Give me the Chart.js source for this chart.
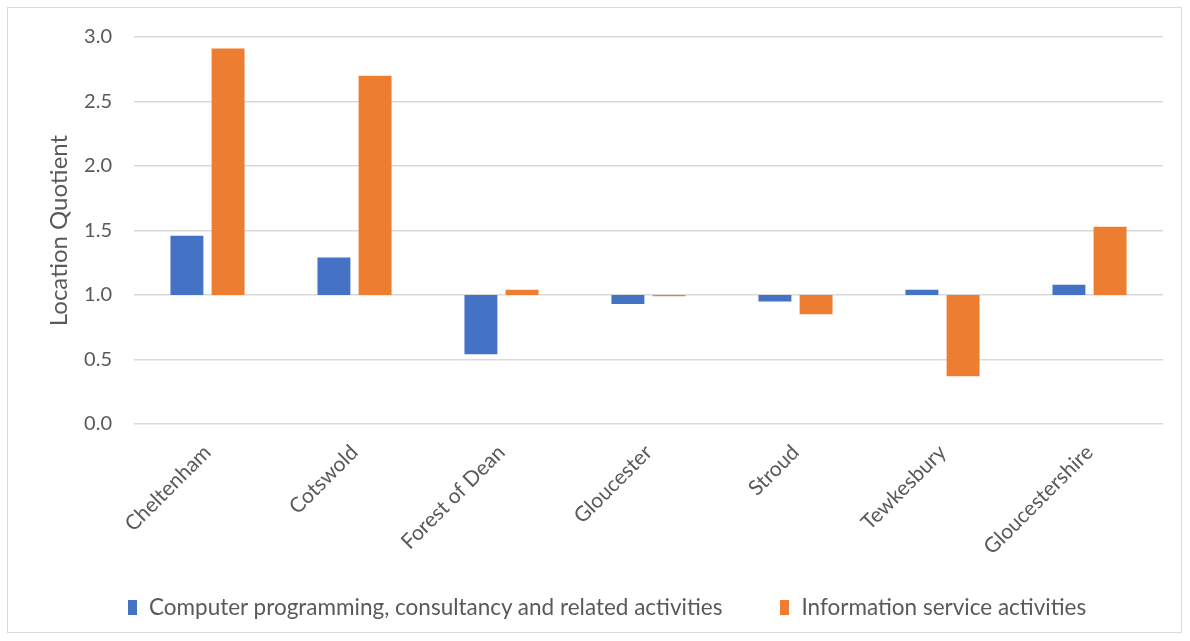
<!DOCTYPE html>
<html>
<head>
<meta charset="utf-8">
<script src="https://cdn.jsdelivr.net/npm/chart.js@4"></script>
<style>
  body { margin: 0; background: #fff; font-family: Lato, "Open Sans", sans-serif; }
  #frame {
    position: absolute; left: 7px; top: 7px;
    width: 1175px; height: 626px;
    border: 1px solid #d9d9d9; box-sizing: border-box;
  }
  canvas { display: block; }
  #legend {
    position: absolute; left: 128px; top: 593px;
    display: flex; gap: 58px; align-items: center;
    color: #595959; font-size: 22.5px; line-height: 28px; white-space: nowrap;
  }
  #legend .item { display: flex; align-items: center; }
  #legend .swatch { width: 9px; height: 15px; margin-right: 12px; }
</style>
</head>
<body>
<div id="frame"><canvas id="lq" width="1173" height="624"></canvas></div>
<div id="legend"></div>
<script>
const areas = ["Cheltenham", "Cotswold", "Forest of Dean", "Gloucester", "Stroud", "Tewkesbury", "Gloucestershire"];
const computing = [1.46, 1.29, 0.54, 0.93, 0.95, 1.04, 1.08];
const infoServices = [2.91, 2.70, 1.04, 0.99, 0.85, 0.37, 1.53];
const baseline = 1.0;
const yTicks = [0, 0.5, 1, 1.5, 2, 2.5, 3];

// bars hang from the 1.0 line, not from zero
const fromBase = (vals) => vals.map(v => [baseline, v]);

const ctx = document.getElementById("lq").getContext("2d");
Chart.defaults.font.family = "Lato, 'Open Sans', sans-serif";
Chart.defaults.color = "#595959";

const chart = new Chart(ctx, {
    type: "bar",
    data: {
        labels: areas,
        datasets: [
            {
                label: "Computer programming, consultancy and related activities",
                data: fromBase(computing),
                backgroundColor: "#4472c4",
                borderWidth: 0,
            },
            {
                label: "Information service activities",
                data: fromBase(infoServices),
                backgroundColor: "#ed7d31",
                borderWidth: 0,
            },
        ],
    },
    options: {
        responsive: false,
        animation: false,
        layout: { padding: { left: 30, right: 18, top: 29, bottom: 58 } },
        categoryPercentage: 0.56,
        barPercentage: 0.8,
        plugins: {
            tooltip: { enabled: false },
            legend: { display: false },
        },
        scales: {
            x: {
                grid: { display: false },
                border: { display: false },
                ticks: {
                    font: { size: 21 },
                    minRotation: 45,
                    maxRotation: 45,
                    padding: 8,
                },
                afterFit: (axis) => { axis.height = 150; },
            },
            y: {
                min: yTicks[0],
                max: yTicks[yTicks.length - 1],
                border: { display: false },
                grid: { color: "#d9d9d9", lineWidth: 1.5, drawTicks: false },
                afterBuildTicks: (axis) => { axis.ticks = yTicks.map(v => ({ value: v })); },
                afterFit: (axis) => {
                    axis.width = 96;
                    axis.paddingTop = 0;
                    axis.paddingBottom = 0;
                },
                ticks: {
                    font: { size: 20 },
                    padding: 22,
                    callback: (v) => Number(v).toFixed(1),
                },
                title: {
                    display: true,
                    text: "Location Quotient",
                    font: { size: 24 },
                    padding: { top: 7, bottom: 6 },
                },
            },
        },
    },
});

// html legend built from the datasets
const legendEl = document.getElementById("legend");
chart.data.datasets.forEach(ds => {
    const item = document.createElement("div");
    item.className = "item";
    const sw = document.createElement("span");
    sw.className = "swatch";
    sw.style.background = ds.backgroundColor;
    const txt = document.createElement("span");
    txt.textContent = ds.label;
    item.append(sw, txt);
    legendEl.append(item);
});
</script>
</body>
</html>
